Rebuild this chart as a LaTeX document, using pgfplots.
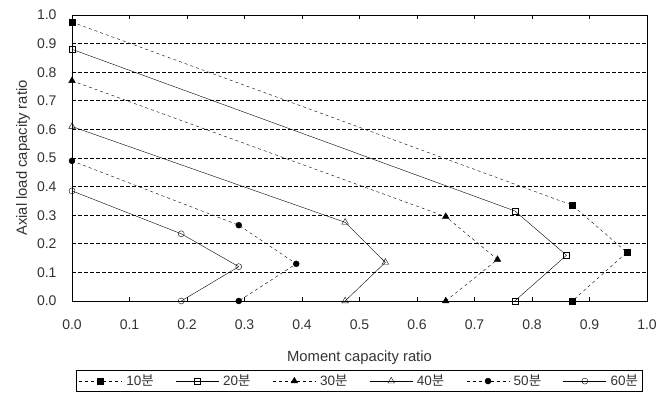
\documentclass[border=0pt]{standalone}
\usepackage{fontspec}
\setmainfont{Liberation Sans}
\newfontfamily\kr{Noto Sans CJK KR}
\usepackage{pgfplots}
\pgfplotsset{compat=1.18}
\begin{document}
\begin{tikzpicture}[x=1pt,y=1pt]
\begin{axis}[
  name=ax,
  at={(72pt,92pt)},
  scale only axis,
  width=575pt, height=286pt,
  xmin=0, xmax=1, ymin=0, ymax=1,
  xtick={0,0.1,...,1.0}, ytick={0,0.1,...,1.0},
  /pgf/number format/fixed,
  /pgf/number format/fixed zerofill,
  /pgf/number format/precision=1,
  /pgf/number format/assume math mode=true,
  tick label style={font=\fontsize{14}{16}\selectfont, text=black!80},
  xticklabel style={yshift=-15pt},
  yticklabel style={xshift=-12pt},
  label style={font=\fontsize{14.8}{17}\selectfont, text=black!80},
  xlabel={Moment capacity ratio},
  ylabel={Axial load capacity ratio},
  xlabel style={at={(axis description cs:0.5,-0.198)}, anchor=center},
  ylabel style={at={(axis description cs:-0.085,0.5)}, anchor=center},
  tick align=inside,
  ytick style={draw=none},
  xtick style={black, thin},
  major tick length=4pt,
  ymajorgrids,
  grid style={black, dash pattern=on 4pt off 2pt, line width=0.8pt},
  axis line style={black, line width=0.8pt},
  legend style={at={(0.5,-0.28)}, anchor=center, draw=black, line width=0.6pt,
    font=\fontsize{13.5}{15}\selectfont, text=black!80, inner sep=2.5pt,
    /tikz/every odd column/.append style={column sep=2pt},
    /tikz/every even column/.append style={column sep=20pt}},
  legend columns=6,
  legend cell align=left,
  legend image code/.code={%
    \draw[mark repeat=2,mark phase=2,#1] plot coordinates {(0pt,0pt) (21.5pt,0pt) (43pt,0pt)};},
]
\addplot[black, thin, dash pattern=on 3pt off 3pt, mark=square*, mark size=3pt, mark options={solid}]
  coordinates {(0,0.975) (0.87,0.335) (0.965,0.17) (0.87,0)};
\addlegendentry{10{\kr 분}}
\addplot[black, thin, mark=square, mark size=3pt, mark options={solid, fill=white}]
  coordinates {(0,0.88) (0.77,0.315) (0.86,0.16) (0.77,0)};
\addlegendentry{20{\kr 분}}
\addplot[black, thin, dash pattern=on 3pt off 3pt, mark=triangle*, mark size=3.8pt, mark options={solid}]
  coordinates {(0,0.77) (0.65,0.295) (0.74,0.145) (0.65,0)};
\addlegendentry{30{\kr 분}}
\addplot[black, thin, mark=triangle, mark size=3.8pt, mark options={solid, fill=white}]
  coordinates {(0,0.61) (0.475,0.275) (0.545,0.135) (0.475,0)};
\addlegendentry{40{\kr 분}}
\addplot[black, thin, dash pattern=on 3pt off 3pt, mark=*, mark size=3pt, mark options={solid}]
  coordinates {(0,0.49) (0.29,0.265) (0.39,0.13) (0.29,0)};
\addlegendentry{50{\kr 분}}
\addplot[black, thin, mark=o, mark size=3pt, mark options={solid, fill=white}]
  coordinates {(0,0.385) (0.19,0.235) (0.29,0.12) (0.19,0)};
\addlegendentry{60{\kr 분}}
\end{axis}
\path[use as bounding box] (0,0) rectangle (672,393);
\end{tikzpicture}
\end{document}
